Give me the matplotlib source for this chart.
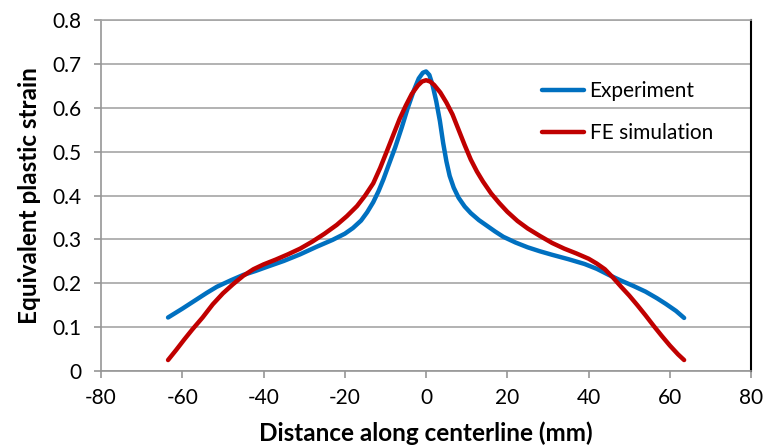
import matplotlib.pyplot as plt

# values
exp_x = [-63.5, -60, -57, -54, -51.5, -48, -45, -42, -39, -35, -31, -27, -23, -20, -18,
         -16, -14.5, -13, -11.7, -10.5, -9.2, -7.6, -6, -4.5, -3, -1.8, -0.8, 0, 0.8, 1.6,
         2.5, 3.4, 4.2, 5, 5.8, 6.8, 8, 9.5, 11, 13, 15, 17, 19, 22, 25, 28, 31, 35, 39,
         42, 45, 48, 51, 54, 56.8, 59, 61.5, 63.5]
exp_y = [0.122, 0.142, 0.16, 0.178, 0.192, 0.207, 0.219, 0.228, 0.238, 0.251, 0.266, 0.283,
         0.299, 0.313, 0.326, 0.343, 0.362, 0.385, 0.41, 0.437, 0.47, 0.51, 0.555, 0.6, 0.64,
         0.667, 0.68, 0.683, 0.675, 0.652, 0.615, 0.57, 0.52, 0.478, 0.445, 0.418, 0.395,
         0.375, 0.36, 0.344, 0.331, 0.318, 0.306, 0.293, 0.282, 0.273, 0.265, 0.255, 0.244,
         0.233, 0.219, 0.206, 0.194, 0.181, 0.166, 0.153, 0.137, 0.121]

fe_x = [-63.5, -61.5, -59.5, -57.5, -55, -52.5, -50, -47.5, -45, -42.5, -40, -37, -34, -31,
        -28, -25, -22, -19.5, -17, -15, -13, -11.3, -9.7, -8, -6.5, -5, -3.5, -2, -1, 0, 1,
        2, 3.5, 5, 6.5, 8, 9.5, 11, 12.5, 14, 16, 18, 20, 22.5, 25, 28, 31, 34, 37, 40, 42,
        44, 46, 48, 50, 52, 54, 56, 58, 60, 62, 63.5]
fe_y = [0.025, 0.048, 0.072, 0.095, 0.122, 0.152, 0.177, 0.198, 0.217, 0.232, 0.243, 0.254,
        0.266, 0.279, 0.295, 0.313, 0.333, 0.353, 0.376, 0.4, 0.428, 0.463, 0.5, 0.54, 0.575,
        0.605, 0.632, 0.651, 0.66, 0.663, 0.66, 0.652, 0.635, 0.612, 0.585, 0.55, 0.515,
        0.482, 0.455, 0.432, 0.405, 0.383, 0.363, 0.342, 0.325, 0.308, 0.292, 0.279, 0.268,
        0.256, 0.245, 0.232, 0.213, 0.192, 0.172, 0.15, 0.127, 0.103, 0.08, 0.058, 0.038,
        0.025]

x_ticks = [-80, -60, -40, -20, 0, 20, 40, 60, 80]
y_ticks = [0, 0.1, 0.2, 0.3, 0.4, 0.5, 0.6, 0.7, 0.8]

plt.rcParams['font.family'] = ['Lato', 'DejaVu Sans']

fig = plt.figure(figsize=(7.64, 4.47), dpi=100)
ax = fig.add_axes([0.1322, 0.170, 0.851, 0.785])

ax.plot(exp_x, exp_y, color='#0070C0', lw=3.2, solid_capstyle='round',
        solid_joinstyle='round', label='Experiment', zorder=3)
ax.plot(fe_x, fe_y, color='#C00000', lw=3.2, solid_capstyle='round',
        solid_joinstyle='round', label='FE simulation', zorder=3)

ax.set_xlim(-80, 80)
ax.set_ylim(0, 0.8)
ax.set_xticks(x_ticks)
ax.set_xticklabels([str(t) for t in x_ticks])
ax.set_yticks(y_ticks)
ax.set_yticklabels(['0'] + ['%.1f' % t for t in y_ticks[1:]])

grey = '#969696'
ax.yaxis.grid(True, color='#A6A6A6', lw=1.2)
ax.set_axisbelow(True)
ax.spines['top'].set_color('#A6A6A6')
ax.spines['top'].set_linewidth(1.2)
ax.spines['left'].set_color(grey)
ax.spines['bottom'].set_color(grey)
ax.spines['left'].set_linewidth(1.2)
ax.spines['bottom'].set_linewidth(1.2)
ax.spines['right'].set_color('black')
ax.spines['right'].set_linewidth(1.5)
ax.tick_params(axis='both', direction='out', length=5, width=1.2, color=grey,
               labelsize=15)
ax.tick_params(axis='y', pad=9)
ax.tick_params(axis='x', pad=7)

ax.set_xlabel('Distance along centerline (mm)', fontsize=17.5, fontweight='bold', labelpad=10)
ax.set_ylabel('Equivalent plastic strain', fontsize=17.5, fontweight='bold', labelpad=8)

ax.legend(loc='upper left', bbox_to_anchor=(0.665, 0.85), frameon=False, fontsize=15,
          handlelength=2.05, handletextpad=0.25, labelspacing=1.05, borderaxespad=0)

fig.savefig('out.png', dpi=100)
